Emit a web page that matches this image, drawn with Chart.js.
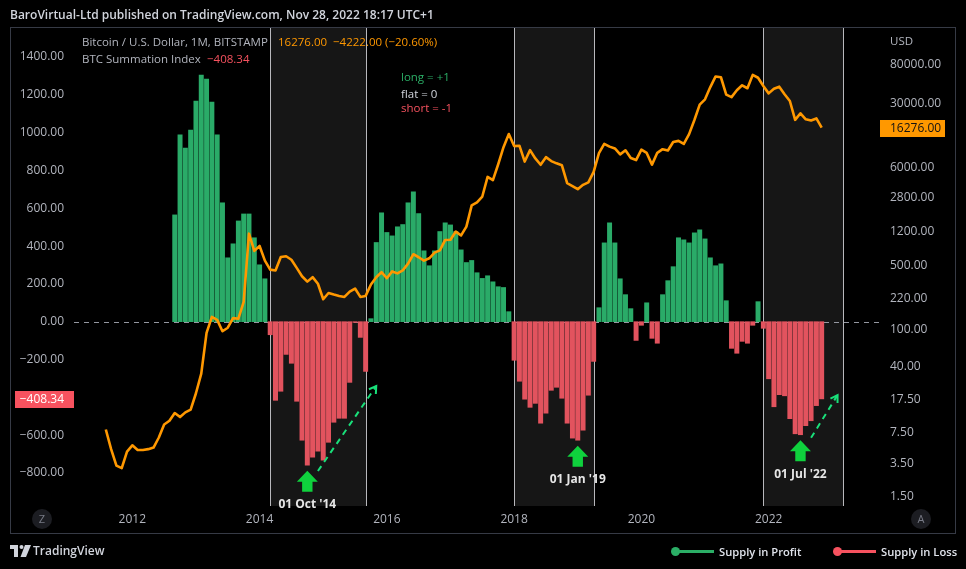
<!DOCTYPE html>
<html>
<head>
<meta charset="utf-8">
<title>BTC Summation Index</title>
<script src="https://cdn.jsdelivr.net/npm/chart.js@4.4.1/dist/chart.umd.min.js"></script>
<style>
  html, body { margin: 0; padding: 0; background: #000; }
  body { width: 966px; height: 569px; position: relative; overflow: hidden;
         font-family: "Open Sans", "Noto Sans", sans-serif; }
  canvas { position: absolute; left: 0; top: 0; }
  .txt { position: absolute; white-space: nowrap; line-height: 16px; height: 16px; }
  #header { left: 10px; top: 7px; font-size: 12px; font-weight: 600; color: #d1d4dc; }
  .legend { font-size: 11.5px; color: #b2b5be; }
  .sig { left: 401px; font-size: 11.5px; }
  .btn { position: absolute; width: 20px; height: 20px; border-radius: 50%; background: #1c1d22;
         color: #787b86; font-size: 11px; line-height: 20px; text-align: center; }
  #tvlogo { position: absolute; left: 10px; top: 545px; }
  #tvname { left: 33px; top: 543px; font-size: 12px; font-weight: 600; color: #d1d4dc; }
  .key { position: absolute; height: 3px; top: 550px; }
  .dot { position: absolute; width: 9px; height: 9px; border-radius: 50%; top: 547px; }
  .keytxt { top: 544px; font-size: 11.2px; font-weight: 600; color: #e0e3eb; }
</style>
</head>
<body>
<canvas id="chart" width="966" height="569"></canvas>

<div class="txt" id="header">BaroVirtual-Ltd published on TradingView.com, Nov 28, 2022 18:17 UTC+1</div>
<div class="txt legend" style="left:82px;top:34px">Bitcoin / U.S. Dollar, 1M, BITSTAMP</div>
<div class="txt legend" style="left:278px;top:34px;color:#ff9800">16276.00&nbsp;&nbsp;−4222.00 (−20.60%)</div>
<div class="txt legend" style="left:82px;top:51px">BTC Summation Index</div>
<div class="txt legend" style="left:207px;top:51px;color:#f7525f">−408.34</div>
<div class="txt legend" style="left:890px;top:33px">USD</div>

<div class="txt sig" style="top:69px;color:#2bae66">long = +1</div>
<div class="txt sig" style="top:86px;color:#d1d4dc">flat = 0</div>
<div class="txt sig" style="top:100px;color:#f7525f">short = -1</div>

<div class="btn" style="left:32px;top:509px">Z</div>
<div class="btn" style="left:911px;top:509px">A</div>

<svg id="tvlogo" width="22" height="12" viewBox="0 0 22 12">
  <rect x="0" y="0" width="8" height="4" fill="#d1d4dc"/>
  <rect x="4" y="0" width="4" height="12" fill="#d1d4dc"/>
  <circle cx="11.5" cy="2" r="2" fill="#d1d4dc"/>
  <polygon points="15,0 21,0 16,12 10.5,12" fill="#d1d4dc"/>
</svg>
<div class="txt" id="tvname">TradingView</div>

<div class="dot" style="left:671px;background:#2bae66"></div>
<div class="key" style="left:675px;width:39px;background:#2bae66"></div>
<div class="txt keytxt" style="left:719px">Supply in Profit</div>
<div class="dot" style="left:833px;background:#f7525f"></div>
<div class="key" style="left:837px;width:39px;background:#f7525f"></div>
<div class="txt keytxt" style="left:881px">Supply in Loss</div>

<script>
// monthly values, first month given by the *Start constants
const summationStart = '2012-09';
const summationIndex = [
  565, 988, 919, 1014, 1167, 1305, 1284, 1162, 988, 629, 338, 412, 533, 570, 570, 444, 301, 227,
  -69, -416, -368, -173, -220, -421, -627, -759, -717, -685, -733, -638, -532, -511, -511, -321, -4, -83, -263,
  16, 419, 576, 472, 454, 502, 514, 629, 687, 572, 375, 296, 375, 477, 523, 512, 477, 380, 313, 324, 259, 229, 243, 211, 185, 181, 53,
  -204, -315, -410, -453, -432, -537, -484, -363, -347, -405, -537, -616, -627, -574, -389, -210,
  74, 417, 523, 417, 227, 143, 69, -99, -19, 100, -88, -114, 143, 217, 291, 444, 433, 417, 470, 486,
  438, 338, 296, 306, 111, -141, -167, -104, -114, -19, 106, -35,
  -302, -450, -386, -392, -513, -593, -598, -550, -524, -444, -408.34
];

const priceStart = '2011-08';
const btcClose = [
  8.2, 5.0, 3.3, 3.1, 4.7,
  5.5, 4.9, 4.9, 5.0, 5.2, 6.7, 9.3, 10.2, 12.4, 11.2, 12.6, 13.5,
  20.4, 33.4, 93, 139, 129, 97, 106, 135, 133, 203, 1129, 732,
  829, 573, 457, 448, 628, 640, 586, 478, 387, 338, 378, 320,
  217, 254, 244, 236, 230, 263, 284, 230, 236, 314, 377, 430,
  368, 437, 416, 448, 531, 673, 624, 573, 608, 700, 742, 964,
  970, 1190, 1080, 1348, 2300, 2480, 2875, 4703, 4338, 6468, 9947, 13850,
  10221, 10326, 6926, 9240, 7494, 6391, 7735, 7011, 6626, 6318, 4017, 3742,
  3457, 3854, 4105, 5350, 8574, 10817, 10085, 9630, 8293, 9199, 7569, 7193,
  9350, 8600, 6410, 8629, 9455, 9138, 11333, 11655, 10779, 13800, 19714, 28990,
  33114, 45137, 58918, 57750, 37332, 35040, 41626, 47166, 43790, 61318, 57005, 46306,
  38483, 43194, 45538, 37714, 31792, 19785, 23336, 20050, 19423, 20498, 16276
];

const yearTicks = [2012, 2014, 2016, 2018, 2020, 2022];
const leftTicks = [1400, 1200, 1000, 800, 600, 400, 200, 0, -200, -400, -600, -800];
const rightTicks = [80000, 30000, 14000, 6000, 2800, 1200, 500, 220, 100, 40, 17.5, 7.5, 3.5, 1.5];

const shadedRanges = [['2014-03', '2015-09'], ['2018-01', '2019-04'], ['2021-12', '2023-03']];
const bottomCalls = [['2014-10', "01 Oct '14"], ['2019-01', "01 Jan '19"], ['2022-07', "01 Jul '22"]];
const reboundArrows = [[['2014-12', -790], ['2015-11', -340]], [['2022-09', -614], ['2023-02', -388]]];

const GREEN = '#2aab68';
const RED = '#e2535e';
const ORANGE = '#ff9800';

const monthIndex = (s) => {
  const [yy, mm] = s.split('-').map(Number);
  return (yy - 2011) * 12 + (mm - 1);
};
const minus = (s) => s.replace('-', '\u2212');

const sumIdx0 = monthIndex(summationStart);
const priceIdx0 = monthIndex(priceStart);
const lastSum = summationIndex[summationIndex.length - 1];
const lastPrice = btcClose[btcClose.length - 1];

const paneDecor = {
  id: 'paneDecor',
  beforeDatasetsDraw(chart) {
    const { ctx, chartArea: a, scales: { x, y } } = chart;
    ctx.save();
    shadedRanges.forEach(([s, e]) => {
      const x0 = Math.round(x.getPixelForValue(monthIndex(s))) + 0.5;
      const x1 = Math.round(x.getPixelForValue(monthIndex(e))) + 0.5;
      ctx.fillStyle = '#161616';
      ctx.fillRect(x0, a.top, x1 - x0, a.bottom - a.top);
      ctx.strokeStyle = '#b8b8bc';
      ctx.lineWidth = 1;
      ctx.beginPath();
      ctx.moveTo(x0, a.top); ctx.lineTo(x0, a.bottom);
      ctx.moveTo(x1, a.top); ctx.lineTo(x1, a.bottom);
      ctx.stroke();
    });
    const y0 = Math.round(y.getPixelForValue(0)) + 0.5;
    ctx.setLineDash([5, 5]);
    ctx.strokeStyle = '#9598a1';
    ctx.beginPath();
    ctx.moveTo(a.left, y0); ctx.lineTo(a.right, y0);
    ctx.stroke();
    ctx.restore();
  },
  afterDraw(chart) {
    const { ctx, scales: { x, y, y2 } } = chart;
    ctx.save();

    // buy arrows under the deepest bars
    bottomCalls.forEach(([m, label]) => {
      const idx = monthIndex(m);
      const cx = x.getPixelForValue(idx);
      const top = y.getPixelForValue(summationIndex[idx - sumIdx0]) + 5.5;
      ctx.fillStyle = '#0fd13d';
      ctx.beginPath();
      ctx.moveTo(cx, top);
      ctx.lineTo(cx + 10.5, top + 11);
      ctx.lineTo(cx + 5.2, top + 11);
      ctx.lineTo(cx + 5.2, top + 21);
      ctx.lineTo(cx - 5.2, top + 21);
      ctx.lineTo(cx - 5.2, top + 11);
      ctx.lineTo(cx - 10.5, top + 11);
      ctx.closePath();
      ctx.fill();
      ctx.font = "bold 12px 'Open Sans'";
      ctx.textAlign = 'center';
      ctx.textBaseline = 'middle';
      ctx.fillStyle = '#e6e6e6';
      ctx.fillText(label, cx, top + 34);
    });

    // dashed rebound arrows
    reboundArrows.forEach(([[m0, v0], [m1, v1]]) => {
      const xa = x.getPixelForValue(monthIndex(m0)), ya = y.getPixelForValue(v0);
      const xb = x.getPixelForValue(monthIndex(m1)), yb = y.getPixelForValue(v1);
      ctx.strokeStyle = '#19e07a';
      ctx.lineWidth = 2;
      ctx.setLineDash([6, 5]);
      ctx.beginPath();
      ctx.moveTo(xa, ya); ctx.lineTo(xb, yb);
      ctx.stroke();
      ctx.setLineDash([]);
      const ang = Math.atan2(yb - ya, xb - xa);
      ctx.beginPath();
      ctx.moveTo(xb - 8 * Math.cos(ang - 0.55), yb - 8 * Math.sin(ang - 0.55));
      ctx.lineTo(xb, yb);
      ctx.lineTo(xb - 8 * Math.cos(ang + 0.55), yb - 8 * Math.sin(ang + 0.55));
      ctx.stroke();
    });

    // last value tags on both scales
    ctx.font = "12px 'Open Sans'";
    ctx.textBaseline = 'middle';
    const py = y2.getPixelForValue(lastPrice);
    ctx.fillStyle = ORANGE;
    ctx.fillRect(880, Math.round(py) - 8, 65, 17);
    ctx.fillStyle = '#131313';
    ctx.textAlign = 'left';
    ctx.fillText(lastPrice.toFixed(2), 890, py + 0.5);

    const sy = y.getPixelForValue(lastSum);
    ctx.fillStyle = '#f7525f';
    ctx.fillRect(15, Math.round(sy) - 8, 59, 17);
    ctx.fillStyle = '#ffffff';
    ctx.textAlign = 'right';
    ctx.fillText(minus(lastSum.toFixed(2)), 64, sy + 0.5);

    // pane frame
    ctx.strokeStyle = '#363a45';
    ctx.lineWidth = 1;
    ctx.strokeRect(10.5, 27.5, 945, 506);
    ctx.restore();
  }
};

Chart.defaults.font.family = "'Open Sans', 'Noto Sans', sans-serif";
Chart.defaults.font.size = 12;
Chart.defaults.color = '#b2b5be';

new Chart(document.getElementById('chart'), {
  type: 'bar',
  data: {
    datasets: [
      {
        type: 'line',
        label: 'Bitcoin / U.S. Dollar',
        data: btcClose.map((v, i) => ({ x: priceIdx0 + i, y: v })),
        yAxisID: 'y2',
        borderColor: ORANGE,
        borderWidth: 2.6,
        pointRadius: 0,
        tension: 0,
        borderJoinStyle: 'round',
        order: 0
      },
      {
        label: 'BTC Summation Index',
        data: summationIndex.map((v, i) => ({ x: sumIdx0 + i, y: v })),
        yAxisID: 'y',
        backgroundColor: summationIndex.map((v) => (v >= 0 ? GREEN : RED)),
        barThickness: 4.3,
        grouped: false,
        order: 1
      }
    ]
  },
  options: {
    responsive: false,
    animation: false,
    layout: { padding: { left: 10, right: 10, top: 27, bottom: 35 } },
    plugins: { legend: { display: false }, tooltip: { enabled: false } },
    scales: {
      x: {
        type: 'linear',
        min: 1.0,
        max: 153.0,
        offset: false,
        grid: { display: false, drawTicks: false },
        border: { display: false },
        afterFit: (s) => { s.height = 28; },
        afterBuildTicks: (s) => { s.ticks = yearTicks.map((yr) => ({ value: (yr - 2011) * 12 })); },
        ticks: {
          padding: 6,
          maxRotation: 0,
          autoSkip: false,
          callback: (v) => String(2011 + v / 12)
        }
      },
      y: {
        position: 'left',
        min: -975,
        max: 1559,
        grid: { display: false, drawTicks: false },
        border: { display: false },
        afterFit: (s) => { s.width = 64; },
        afterBuildTicks: (s) => { s.ticks = leftTicks.map((v) => ({ value: v })); },
        ticks: { padding: 10, autoSkip: false, callback: (v) => minus(v.toFixed(2)) }
      },
      y2: {
        type: 'logarithmic',
        position: 'right',
        min: 1.196,
        max: 204400,
        grid: { display: false, drawTicks: false },
        border: { display: false },
        afterFit: (s) => { s.width = 76; },
        afterBuildTicks: (s) => { s.ticks = rightTicks.map((v) => ({ value: v })); },
        ticks: { padding: 10, autoSkip: false, callback: (v) => Number(v).toFixed(2) }
      }
    }
  },
  plugins: [paneDecor]
});
</script>
</body>
</html>
